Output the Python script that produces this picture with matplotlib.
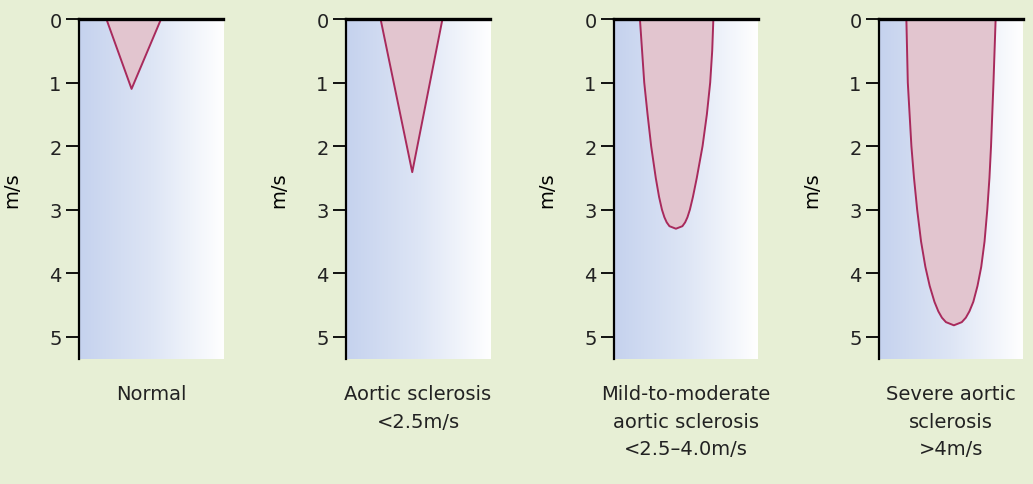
import numpy as np
import matplotlib.pyplot as plt
from matplotlib.colors import LinearSegmentedColormap

# panel captions
titles = ["Normal",
          "Aortic sclerosis\n<2.5m/s",
          "Mild-to-moderate\naortic sclerosis\n<2.5\u20134.0m/s",
          "Severe aortic\nsclerosis\n>4m/s"]

# outline of each jet envelope: depth (m/s) and horizontal position (fraction of panel)
normal_v = [0, 1.1, 0]
normal_x = [0.19, 0.365, 0.57]

aortic_v = [0, 2.41, 0]
aortic_x = [0.24, 0.46, 0.67]

mild_v = [0, 0.5, 1, 1.5, 2, 2.5, 2.8, 3.0, 3.12, 3.2, 3.26, 3.3,
          3.26, 3.2, 3.12, 3.0, 2.8, 2.5, 2.0, 1.5, 1, 0.5, 0]
mild_x = [0.18, 0.195, 0.21, 0.233, 0.258, 0.29, 0.313, 0.333, 0.35, 0.366, 0.385, 0.43,
          0.475, 0.494, 0.51, 0.527, 0.548, 0.575, 0.615, 0.645, 0.668, 0.682, 0.69]

severe_v = [0, 1, 2, 2.5, 3, 3.5, 3.9, 4.2, 4.45, 4.6, 4.7, 4.77, 4.82,
            4.77, 4.7, 4.6, 4.45, 4.2, 3.9, 3.5, 3, 2.5, 2, 1, 0]
severe_x = [0.19, 0.20, 0.225, 0.243, 0.265, 0.292, 0.322, 0.352, 0.385, 0.412, 0.437, 0.465, 0.52,
            0.575, 0.603, 0.628, 0.655, 0.684, 0.71, 0.733, 0.752, 0.767, 0.778, 0.795, 0.81]

shapes = [(normal_x, normal_v), (aortic_x, aortic_v), (mild_x, mild_v), (severe_x, severe_v)]
yticks = [0, 1, 2, 3, 4, 5]

bg = "#e7efd5"
fig = plt.figure(figsize=(10.33, 4.85), dpi=100, facecolor=bg)

grad = LinearSegmentedColormap.from_list("g", ["#c5d2ee", "#dde5f5", "#ffffff"])
lefts = [79, 346, 614, 879]

for i, left in enumerate(lefts):
    ax = fig.add_axes([left / 1033, 1 - 360 / 485, 144 / 1033, 340 / 485])
    ax.set_facecolor("white")
    ax.imshow(np.linspace(0, 1, 256)[None, :], cmap=grad, aspect="auto",
              extent=[0, 1, 5.35, 0], zorder=0)
    xs, vs = shapes[i]
    ax.fill(xs, vs, facecolor="#e2c5cf", edgecolor="#a82a5c", linewidth=1.4,
            joinstyle="round", zorder=2)
    ax.set_xlim(0, 1)
    ax.set_ylim(5.35, 0)
    ax.set_xticks([])
    ax.set_yticks(yticks)
    ax.tick_params(axis="y", direction="out", length=9.5, width=1.3, pad=3,
                   labelsize=14, labelcolor="#222222")
    for s in ["right", "bottom"]:
        ax.spines[s].set_visible(False)
    ax.spines["left"].set_linewidth(1.6)
    ax.spines["top"].set_linewidth(2.4)
    ax.set_ylabel("m/s", fontsize=14, labelpad=20)
    ax.text(0.5, -0.075, titles[i], transform=ax.transAxes, ha="center", va="top",
            fontsize=14, linespacing=1.55, color="#222222")

fig.savefig("out.png", dpi=100, facecolor=bg)
